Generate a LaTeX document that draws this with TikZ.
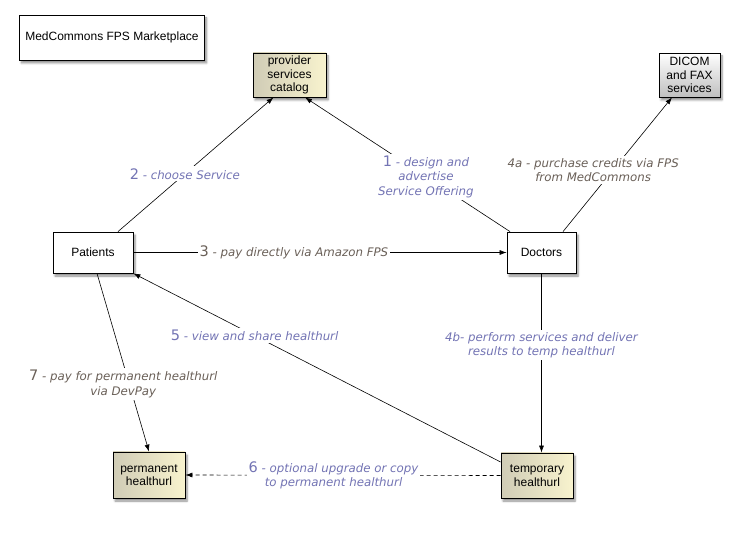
\documentclass[tikz,border=0pt]{standalone}
\usepackage{fontspec}
\setmainfont{Liberation Sans}
\newfontfamily\lblfont{DejaVu Sans}
\usetikzlibrary{arrows.meta,shadows.blur}
\definecolor{lblblue}{HTML}{7374B4}
\definecolor{lblbrown}{HTML}{6A6058}
\definecolor{creamL}{HTML}{D0CCB6}
\definecolor{creamR}{HTML}{F8F3CE}
\tikzset{
  box/.style={draw=black, fill=white, line width=0.8pt, align=center, inner sep=0pt,
    font=\fontsize{12}{13.5}\selectfont,
    blur shadow={shadow xshift=2pt, shadow yshift=-3pt, shadow blur steps=6, shadow opacity=45}},
  cream/.style={box, left color=creamL, right color=creamR},
  grey/.style={box, top color=white, bottom color=black!25},
  link/.style={draw, line width=0.6pt, -{Latex[length=7pt,width=5pt]}},
  num/.style={fill=white, inner sep=2pt, align=center, font=\lblfont\fontsize{11.8}{14.5}\selectfont\itshape},
  bluelbl/.style={num, text=lblblue},
  brownlbl/.style={num, text=lblbrown}
}
\newcommand{\stepnr}[1]{{\upshape\fontsize{14.5}{14.5}\selectfont #1}}
\begin{document}
\begin{tikzpicture}[x=1pt,y=-1pt]
\useasboundingbox (0,0) rectangle (756,553);
% boxes
\node[box, minimum width=185pt, minimum height=45pt] (title) at (112,37.5) {MedCommons FPS Marketplace};
\node[cream, minimum width=73pt, minimum height=44pt] (cat) at (289.5,75) {provider\\services\\catalog};
\node[grey, minimum width=61pt, minimum height=44pt] (dicom) at (689.5,75) {DICOM\\and FAX\\services};
\node[box, minimum width=80pt, minimum height=41pt] (pat) at (93,252.5) {Patients};
\node[box, minimum width=69pt, minimum height=41pt] (doc) at (541.5,252.5) {Doctors};
\node[cream, minimum width=72pt, minimum height=46pt] (perm) at (149,475) {permanent\\healthurl};
\node[cream, minimum width=72pt, minimum height=45pt] (tmp) at (537,475.5) {temporary\\healthurl};
% connectors
\path[link] ([xshift=25pt]pat.north) -- node[bluelbl, pos=0.43] {\stepnr{2} - choose Service} ([xshift=-16pt]cat.south);
\path[link] ([xshift=-31.5pt]doc.north) -- node[bluelbl, pos=0.41] {\stepnr{1} - design and\\advertise\\Service Offering} ([xshift=15.5pt]cat.south);
\path[link] ([xshift=21.5pt]doc.north) -- node[brownlbl, pos=0.46, xshift=-20pt] {4a - purchase credits via FPS\\from MedCommons} ([xshift=-17.5pt]dicom.south);
\path[link] (pat.east) -- node[brownlbl, pos=0.43] {\stepnr{3} - pay directly via Amazon FPS} (doc.west);
\path[link] ([yshift=13.5pt]tmp.west) -- node[bluelbl, pos=0.67] {\stepnr{5} - view and share healthurl} (pat.south east);
\path[link] (doc.south) -- node[bluelbl, pos=0.4] {4b- perform services and deliver\\results to temp healthurl} (doc.south |- tmp.north);
\path[link] ([xshift=4pt]pat.south) -- node[brownlbl, pos=0.62, xshift=-6pt] {\stepnr{7} - pay for permanent healthurl\\via DevPay} (perm.north);
\path[link, dash pattern=on 4pt off 3pt] (tmp.west) -- node[bluelbl, pos=0.53] {\stepnr{6} - optional upgrade or copy\\to permanent healthurl} (perm.east);
\end{tikzpicture}
\end{document}
